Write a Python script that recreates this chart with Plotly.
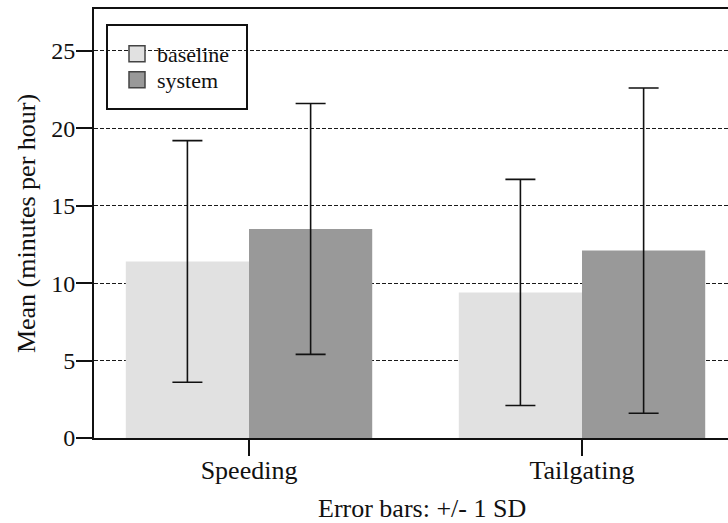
import plotly.graph_objects as go

categories = ["Speeding", "Tailgating"]
groups = ["baseline", "system"]
means = {"baseline": [11.4, 9.4], "system": [13.5, 12.1]}
sds = {"baseline": [7.8, 7.3], "system": [8.1, 10.5]}
colors = {"baseline": "#e1e1e1", "system": "#999999"}
y_ticks = [0, 5, 10, 15, 20, 25]

FONT = "Liberation Serif, DejaVu Serif, serif"

W, H = 728, 523
L, R, T, B = 94, 0, 9, 85
pw, ph = W - L - R, H - T - B

def px_x(p):
    return (p - L) / pw

def px_y(p):
    return (H - B - p) / ph

fig = go.Figure()
for g in groups:
    fig.add_trace(go.Bar(
        x=categories, y=means[g], name=g, showlegend=False,
        marker=dict(color=colors[g], line=dict(width=0)),
        error_y=dict(type="data", array=sds[g], visible=True,
                     color="#111111", thickness=1.6, width=15),
    ))
# legend proxies (square swatches), one legend per entry for exact spacing
legend_ids = {"baseline": "legend", "system": "legend2"}
legend_centers = {"baseline": 54, "system": 80}
for g in groups:
    fig.add_trace(go.Scatter(
        x=[None], y=[None], mode="markers", name=g, legend=legend_ids[g],
        marker=dict(symbol="square", size=16, color=colors[g],
                    line=dict(color="#444444", width=1.5)),
    ))

def legend_cfg(center_y):
    return dict(x=px_x(117), y=px_y(center_y), xanchor="left", yanchor="middle",
                bgcolor="rgba(0,0,0,0)", borderwidth=0,
                font=dict(family=FONT, size=22, color="#111111"),
                itemwidth=30)

fig.update_layout(
    width=W, height=H,
    margin=dict(l=L, r=R, t=T, b=B, pad=0),
    paper_bgcolor="white", plot_bgcolor="white",
    barmode="group", bargap=0.26, bargroupgap=0,
    font=dict(family=FONT, color="#111111"),
    showlegend=True,
    legend=legend_cfg(legend_centers["baseline"]),
    legend2=legend_cfg(legend_centers["system"]),
    xaxis=dict(
        type="category", range=[-0.4655, 1.4384],
        showline=True, linecolor="#111111", linewidth=2, mirror=True,
        ticks="outside", ticklen=16, tickwidth=1.6, tickcolor="#111111",
        tickfont=dict(family=FONT, size=26, color="#111111"),
        ticklabelstandoff=-8,
        showgrid=False, zeroline=False,
    ),
    yaxis=dict(
        range=[0, 27.7], tickvals=y_ticks,
        showline=True, linecolor="#111111", linewidth=2, mirror=False,
        ticks="outside", ticklen=16, tickwidth=1.6, tickcolor="#111111",
        tickfont=dict(family=FONT, size=24, color="#111111"),
        ticklabelstandoff=-4,
        showgrid=True, gridcolor="#1a1a1a", gridwidth=1.2, griddash="4px,2px",
        zeroline=False,
        title=dict(text="Mean (minutes per hour)",
                   font=dict(family=FONT, size=26, color="#111111"),
                   standoff=8),
    ),
    shapes=[dict(type="rect", xref="paper", yref="paper",
                 x0=px_x(107), x1=px_x(247), y0=px_y(109), y1=px_y(25),
                 line=dict(color="#111111", width=2), fillcolor="rgba(0,0,0,0)")],
    annotations=[dict(text="Error bars: +/- 1 SD", xref="paper", yref="paper",
                      x=px_x(422), y=px_y(508), xanchor="center", yanchor="middle",
                      showarrow=False,
                      font=dict(family=FONT, size=26, color="#111111"))],
)

fig.write_html("out.html")
